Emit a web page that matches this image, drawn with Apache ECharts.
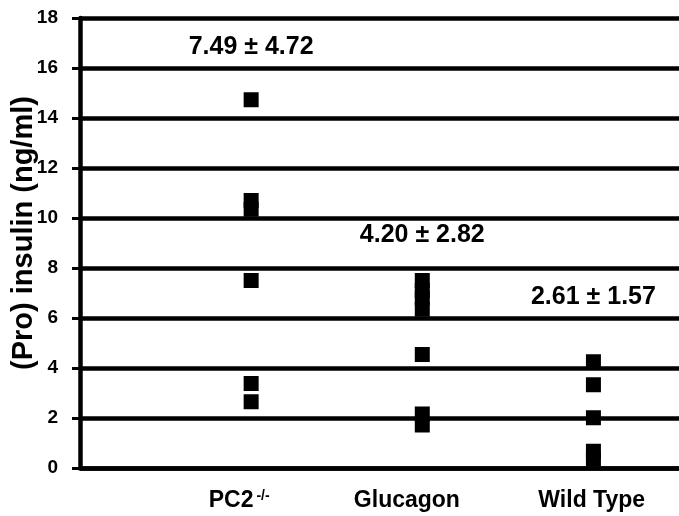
<!DOCTYPE html>
<html>
<head>
<meta charset="utf-8">
<script src="https://cdn.jsdelivr.net/npm/echarts@6/dist/echarts.min.js"></script>
<style>
  html, body { margin: 0; padding: 0; background: #fff; }
  #chart { width: 679px; height: 516px; }
</style>
</head>
<body>
<div id="chart"></div>
<script>
// groups and where each group sits on the x scale
var groups = ['PC2', 'Glucagon', 'Wild Type'];
var groupX = [1, 2, 3];
// group label anchors on the x scale (labels are not centred on the dots)
var labelX = [0.93, 1.91, 2.99];

// (pro)insulin values, ng/ml
var pc2Values = [14.73, 10.7, 10.35, 7.5, 3.38, 2.65];
var glucagonValues = [7.5, 7.1, 6.8, 6.35, 4.54, 2.16, 1.72];
var wildTypeValues = [4.25, 3.33, 2.01, 0.67, 0.35];

// mean ± sd text and the height it is written at
var statText = ['7.49 ± 4.72', '4.20 ± 2.82', '2.61 ± 1.57'];
var statY = [16.85, 9.3, 6.85];

var yTicks = [0, 2, 4, 6, 8, 10, 12, 14, 16, 18];

var font = "'Liberation Sans', Arial, Helvetica, sans-serif";

var chart = echarts.init(document.getElementById('chart'));

var allValues = [pc2Values, glucagonValues, wildTypeValues];
var points = [];
for (var g = 0; g < allValues.length; g++) {
  for (var i = 0; i < allValues[g].length; i++) {
    points.push([groupX[g], allValues[g][i]]);
  }
}
var stats = [];
for (var s = 0; s < statText.length; s++) {
  stats.push({ value: [groupX[s], statY[s]], name: statText[s] });
}

var option = {
  backgroundColor: '#fff',
  animation: false,
  grid: { left: 80, right: 0, top: 18, bottom: 48, containLabel: false, outerBoundsMode: 'none' },
  xAxis: {
    type: 'value',
    min: 0,
    max: 3.5,
    axisLine: { show: true, onZero: false, lineStyle: { color: '#000', width: 4.5 } },
    axisTick: { show: false },
    splitLine: { show: false },
    axisLabel: {
      customValues: labelX,
      margin: 21,
      color: '#000',
      fontFamily: font,
      fontWeight: 'bold',
      fontSize: 23,
      formatter: function (v) {
        var k = labelX.indexOf(v);
        if (k === 0) return '{a|PC2}{b|-/-}';
        return k >= 0 ? '{a|' + groups[k] + '}' : '';
      },
      rich: {
        a: { fontFamily: font, fontWeight: 'bold', fontSize: 23, color: '#000' },
        b: { fontFamily: font, fontWeight: 'bold', fontSize: 14, color: '#000', verticalAlign: 'top', padding: [0, 0, 10, 3] }
      }
    }
  },
  yAxis: {
    type: 'value',
    min: 0,
    max: 18,
    interval: 2,
    name: '(Pro) insulin (ng/ml)',
    nameLocation: 'middle',
    nameGap: 42,
    nameMoveOverlap: false,
    nameTextStyle: { color: '#000', fontFamily: font, fontWeight: 'bold', fontSize: 29, padding: [0, 0, 0, 20] },
    axisLine: { show: true, lineStyle: { color: '#000', width: 4.5 } },
    axisTick: { show: true, inside: false, length: 8, lineStyle: { color: '#000', width: 3 } },
    axisLabel: {
      margin: 22,
      color: '#000',
      fontFamily: font,
      fontWeight: 'bold',
      fontSize: 19,
      formatter: function (v) { return yTicks.indexOf(v) >= 0 ? String(v) : ''; }
    },
    splitLine: { show: true, lineStyle: { color: '#000', width: 4.5 } }
  },
  series: [
    {
      name: 'values',
      type: 'scatter',
      symbol: 'rect',
      symbolSize: 15,
      itemStyle: { color: '#000', opacity: 1 },
      data: points,
      z: 3
    },
    {
      name: 'stats',
      type: 'scatter',
      symbolSize: 0,
      data: stats,
      silent: true,
      itemStyle: { opacity: 1 },
      label: {
        show: true,
        position: 'inside',
        formatter: function (p) { return p.name; },
        color: '#000',
        opacity: 1,
        fontFamily: font,
        fontWeight: 'bold',
        fontSize: 25
      },
      z: 4
    }
  ]
};

chart.setOption(option);
</script>
</body>
</html>
